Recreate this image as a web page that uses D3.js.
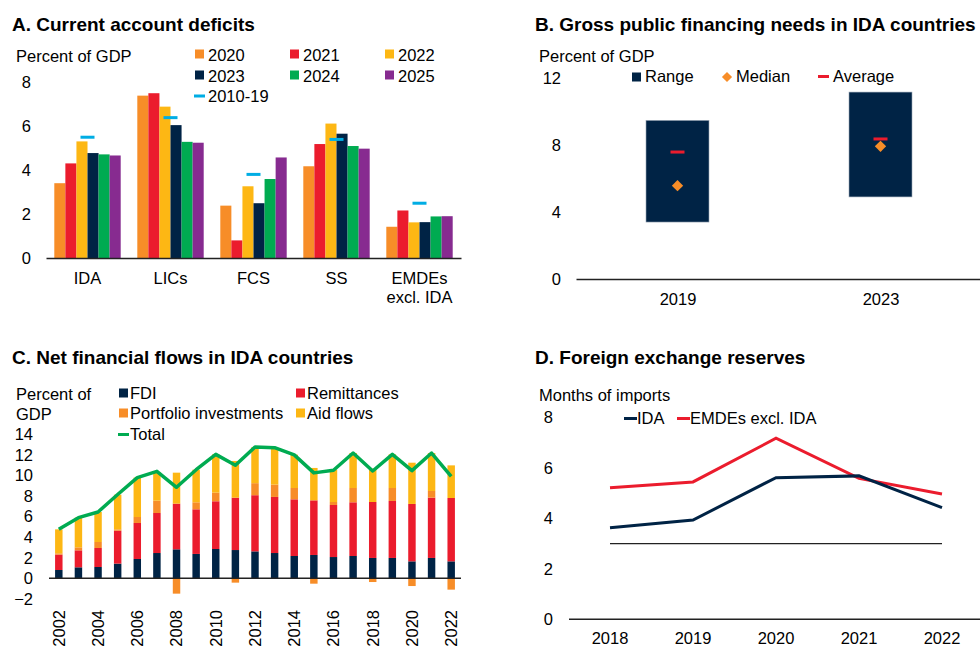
<!DOCTYPE html>
<html>
<head>
<meta charset="utf-8">
<script src="https://cdn.jsdelivr.net/npm/d3@7"></script>
<style>
body { margin: 0; background: #fff; }
text { font-family: 'Liberation Sans', Arial, Helvetica, sans-serif; fill: #000; }
</style>
</head>
<body>
<div id="chart"></div>
<script>
// A. Current account deficits
var groupsA = ["IDA", "LICs", "FCS", "SS", "EMDEs excl. IDA"];
var yearsA = ["2020", "2021", "2022", "2023", "2024", "2025"];
var cad2020 = [3.40, 7.38, 2.38, 4.17, 1.42];
var cad2021 = [4.30, 7.49, 0.80, 5.18, 2.16];
var cad2022 = [5.30, 6.88, 3.26, 6.11, 1.62];
var cad2023 = [4.77, 6.04, 2.49, 5.65, 1.63];
var cad2024 = [4.71, 5.28, 3.59, 5.09, 1.89];
var cad2025 = [4.66, 5.24, 4.57, 4.97, 1.90];
var cadAvg = [5.49, 6.38, 3.80, 5.39, 2.49];
var ticksA = [0, 2, 4, 6, 8];

// B. Gross public financing needs
var yearsB = ["2019", "2023"];
var gfnLow = [3.40, 4.90];
var gfnHigh = [9.47, 11.16];
var gfnMedian = [5.57, 7.92];
var gfnAverage = [7.58, 8.36];
var ticksB = [0, 4, 8, 12];

// C. Net financial flows
var yearsC = d3.range(2002, 2023).map(String);
var fdi = [0.81, 1.07, 1.10, 1.43, 1.88, 2.46, 2.82, 2.37, 2.85, 2.75, 2.62, 2.46, 2.17, 2.27, 2.07, 2.17, 1.98, 1.98, 1.65, 1.98, 1.65];
var remit = [1.49, 1.65, 1.85, 3.20, 3.50, 3.89, 4.44, 4.34, 4.64, 5.09, 5.46, 5.45, 5.51, 5.31, 5.06, 5.22, 5.44, 5.54, 5.58, 5.86, 6.16];
var portfolio = [0.13, 0.29, 0.58, 0.13, 0.58, 1.20, -1.49, 0.68, 0.84, -0.42, 1.17, 1.20, 1.10, -0.52, 0.29, 1.39, -0.36, 1.26, -0.75, 0.65, -1.10];
var aid = [2.33, 2.89, 2.92, 3.37, 3.83, 2.79, 3.01, 3.17, 3.72, 3.57, 3.50, 3.54, 3.24, 3.15, 3.14, 3.40, 3.24, 3.27, 4.01, 3.69, 3.17];
var total = [4.76, 5.90, 6.45, 8.15, 9.79, 10.40, 8.85, 10.56, 12.05, 11.00, 12.77, 12.70, 12.00, 10.25, 10.50, 12.18, 10.43, 12.05, 10.47, 12.18, 9.92];
var ticksC = [-2, 0, 2, 4, 6, 8, 10, 12, 14];

// D. Foreign exchange reserves
var yearsD = ["2018", "2019", "2020", "2021", "2022"];
var resIDA = [3.63, 3.93, 5.61, 5.68, 4.42];
var resEMDE = [5.21, 5.44, 7.17, 5.58, 4.96];
var threshold = 3;
var ticksD = [0, 2, 4, 6, 8];

var navy = "#002345", red = "#EB1C2D", orange = "#F78D28", yellow = "#FDB714",
    green = "#00AB51", purple = "#872B90", cyan = "#00ADE4";
var fs = "16.5px";

var svg = d3.select("#chart").append("svg")
    .attr("width", 980)
    .attr("height", 646);

function title(x, y, s) {
    svg.append("text").attr("x", x).attr("y", y)
        .style("font-size", "19px").style("font-weight", "bold").text(s);
}
function label(x, y, s, anchor) {
    return svg.append("text").attr("x", x).attr("y", y)
        .attr("text-anchor", anchor || "start")
        .style("font-size", fs).text(s);
}
function yAxis(x, scale, ticks) {
    var g = svg.append("g")
        .attr("transform", "translate(" + x + ",0)")
        .call(d3.axisLeft(scale).tickValues(ticks).tickSize(0).tickPadding(0));
    g.select(".domain").remove();
    g.selectAll("text").style("font-size", fs).attr("fill", "#000");
}

// ---------- Panel A ----------
title(12, 31, "A. Current account deficits");
label(16, 62, "Percent of GDP");

var yA = d3.scaleLinear().domain([0, 8]).range([258, 82]);
var xA = d3.scaleBand().domain(groupsA).range([46, 461]).paddingInner(0.2).paddingOuter(0.1);
var xInner = d3.scaleBand().domain(yearsA).range([0, xA.bandwidth()]);
var seriesA = [cad2020, cad2021, cad2022, cad2023, cad2024, cad2025];
var colorsA = [orange, red, yellow, navy, green, purple];

yAxis(31, yA, ticksA);

seriesA.forEach(function (vals, i) {
    svg.append("g").selectAll("rect")
        .data(vals)
        .enter()
        .append("rect")
        .attr("x", function (d, j) { return xA(groupsA[j]) + xInner(yearsA[i]); })
        .attr("y", function (d) { return yA(d); })
        .attr("width", xInner.bandwidth())
        .attr("height", function (d) { return yA(0) - yA(d); })
        .attr("fill", colorsA[i]);
});

svg.append("g").selectAll("rect")
    .data(cadAvg)
    .enter()
    .append("rect")
    .attr("x", function (d, j) { return xA(groupsA[j]) + xA.bandwidth() / 2 - 7; })
    .attr("y", function (d) { return yA(d) - 1.5; })
    .attr("width", 14)
    .attr("height", 3)
    .attr("fill", cyan);

var axA = svg.append("g")
    .attr("transform", "translate(0," + yA(0) + ")")
    .call(d3.axisBottom(xA).tickSize(0).tickPadding(14.5));
axA.select(".domain").attr("stroke", "#222").attr("stroke-width", 1.5);
axA.selectAll("text").style("font-size", fs).attr("fill", "#000")
    .each(function (d) {
        var t = d3.select(this);
        if (d === "EMDEs excl. IDA") {
            t.text(null);
            t.append("tspan").attr("x", 0).text("EMDEs");
            t.append("tspan").attr("x", 0).attr("dy", "1.13em").text("excl. IDA");
        }
    });

// legend A
var legA = [["2020", orange], ["2021", red], ["2022", yellow], ["2023", navy], ["2024", green], ["2025", purple]];
legA.forEach(function (d, i) {
    var lx = 195 + (i % 3) * 95, ly = 54 + Math.floor(i / 3) * 21;
    svg.append("rect").attr("x", lx).attr("y", ly - 4.5).attr("width", 9).attr("height", 9).attr("fill", d[1]);
    label(lx + 13, ly + 6.5, d[0]);
});
svg.append("rect").attr("x", 194).attr("y", 94.5).attr("width", 11).attr("height", 3).attr("fill", cyan);
label(208, 102, "2010-19");

// ---------- Panel B ----------
title(535, 31, "B. Gross public financing needs in IDA countries");
label(539, 62, "Percent of GDP");

var yB = d3.scaleLinear().domain([0, 12]).range([279, 78]);
var xB = d3.scalePoint().domain(yearsB).range([576, 982]).padding(0.5);
yAxis(561, yB, ticksB);

svg.append("g").selectAll("rect")
    .data(yearsB)
    .enter()
    .append("rect")
    .attr("x", function (d) { return xB(d) - 31.5; })
    .attr("y", function (d, i) { return yB(gfnHigh[i]); })
    .attr("width", 63)
    .attr("height", function (d, i) { return yB(gfnLow[i]) - yB(gfnHigh[i]); })
    .attr("fill", navy)
    .attr("stroke", "#9aa7b5")
    .attr("stroke-width", 0.6);

svg.append("g").selectAll("rect")
    .data(yearsB)
    .enter()
    .append("rect")
    .attr("x", function (d) { return xB(d) - 7; })
    .attr("y", function (d, i) { return yB(gfnAverage[i]) - 1.5; })
    .attr("width", 14)
    .attr("height", 3)
    .attr("fill", red);

svg.append("g").selectAll("path")
    .data(yearsB)
    .enter()
    .append("path")
    .attr("transform", function (d, i) { return "translate(" + xB(d) + "," + yB(gfnMedian[i]) + ") rotate(45)"; })
    .attr("d", "M-4,-4H4V4H-4Z")
    .attr("fill", orange);

var axB = svg.append("g")
    .attr("transform", "translate(0," + yB(0) + ")")
    .call(d3.axisBottom(xB).tickSize(0).tickPadding(14));
axB.select(".domain").attr("stroke", "#222").attr("stroke-width", 1.5);
axB.selectAll("text").style("font-size", fs).attr("fill", "#000");

svg.append("rect").attr("x", 632).attr("y", 72.5).attr("width", 9).attr("height", 9).attr("fill", navy);
label(645, 82, "Range");
svg.append("path").attr("transform", "translate(727,77) rotate(45)").attr("d", "M-3.6,-3.6H3.6V3.6H-3.6Z").attr("fill", orange);
label(736, 82, "Median");
svg.append("rect").attr("x", 818).attr("y", 75).attr("width", 11).attr("height", 3).attr("fill", red);
label(833, 82, "Average");

// ---------- Panel C ----------
title(12, 364, "C. Net financial flows in IDA countries");
label(16, 400, "Percent of");
label(16, 420, "GDP");

var yC = d3.scaleLinear().domain([-2, 14]).range([598.9, 434.3]);
var xC = d3.scaleBand().domain(yearsC).range([49, 461]).paddingInner(0.62).paddingOuter(0.31);
yAxis(33, yC, ticksC);

var tableC = yearsC.map(function (y, i) {
    return { year: y, fdi: fdi[i], rem: remit[i], port: portfolio[i], aid: aid[i] };
});
var keysC = ["fdi", "rem", "port", "aid"];
var colorsC = { fdi: navy, rem: red, port: orange, aid: yellow };
var stackC = d3.stack().keys(keysC).offset(d3.stackOffsetDiverging)(tableC);

svg.append("g").selectAll("g")
    .data(stackC)
    .enter()
    .append("g")
    .attr("fill", function (d) { return colorsC[d.key]; })
    .selectAll("rect")
    .data(function (d) { return d; })
    .enter()
    .append("rect")
    .attr("x", function (d) { return xC(d.data.year); })
    .attr("y", function (d) { return yC(Math.max(d[0], d[1])); })
    .attr("width", xC.bandwidth())
    .attr("height", function (d) { return Math.abs(yC(d[0]) - yC(d[1])); });

svg.append("line")
    .attr("x1", 49).attr("x2", 461)
    .attr("y1", yC(0)).attr("y2", yC(0))
    .attr("stroke", "#222").attr("stroke-width", 1.5);

var lineC = d3.line()
    .x(function (d, i) { return xC(yearsC[i]) + xC.bandwidth() / 2; })
    .y(function (d) { return yC(d); });
svg.append("path")
    .datum(total)
    .attr("d", lineC)
    .attr("fill", "none")
    .attr("stroke", green)
    .attr("stroke-width", 3.5)
    .attr("stroke-linejoin", "round");

svg.append("g").selectAll("text")
    .data(yearsC.filter(function (d, i) { return i % 2 === 0; }))
    .enter()
    .append("text")
    .attr("transform", function (d) { return "translate(" + (xC(d) + xC.bandwidth() / 2) + ",610) rotate(-90)"; })
    .attr("dy", "0.36em")
    .attr("text-anchor", "end")
    .style("font-size", fs)
    .text(function (d) { return d; });

var legC = [["FDI", navy, 119, 393], ["Remittances", red, 296, 393], ["Portfolio investments", orange, 119, 413], ["Aid flows", yellow, 296, 413]];
legC.forEach(function (d) {
    svg.append("rect").attr("x", d[2]).attr("y", d[3] - 4.5).attr("width", 9).attr("height", 9).attr("fill", d[1]);
    label(d[2] + 11, d[3] + 6, d[0]);
});
svg.append("line").attr("x1", 118).attr("x2", 129).attr("y1", 434.5).attr("y2", 434.5)
    .attr("stroke", green).attr("stroke-width", 3);
label(130, 440, "Total");

// ---------- Panel D ----------
title(535, 364, "D. Foreign exchange reserves");
label(539, 401, "Months of imports");

var yD = d3.scaleLinear().domain([0, 8]).range([619.3, 417.3]);
var xD = d3.scalePoint().domain(yearsD).range([610, 942]);
yAxis(553, yD, ticksD);

svg.append("line")
    .attr("x1", xD(yearsD[0])).attr("x2", xD(yearsD[yearsD.length - 1]))
    .attr("y1", yD(threshold)).attr("y2", yD(threshold))
    .attr("stroke", "#222").attr("stroke-width", 1.2);

var lineD = d3.line()
    .x(function (d, i) { return xD(yearsD[i]); })
    .y(function (d) { return yD(d); });
svg.append("path").datum(resEMDE).attr("d", lineD)
    .attr("fill", "none").attr("stroke", red).attr("stroke-width", 3);
svg.append("path").datum(resIDA).attr("d", lineD)
    .attr("fill", "none").attr("stroke", navy).attr("stroke-width", 3);

svg.append("line").attr("x1", 569).attr("x2", 980)
    .attr("y1", yD(0)).attr("y2", yD(0))
    .attr("stroke", "#222").attr("stroke-width", 1.5);
svg.append("g").selectAll("text")
    .data(yearsD)
    .enter()
    .append("text")
    .attr("x", function (d) { return xD(d); })
    .attr("y", 643.5)
    .attr("text-anchor", "middle")
    .style("font-size", fs)
    .text(function (d) { return d; });

svg.append("line").attr("x1", 624).attr("x2", 637).attr("y1", 418.5).attr("y2", 418.5)
    .attr("stroke", navy).attr("stroke-width", 3);
label(637, 424, "IDA");
svg.append("line").attr("x1", 677).attr("x2", 690).attr("y1", 418.5).attr("y2", 418.5)
    .attr("stroke", red).attr("stroke-width", 3);
label(690, 424, "EMDEs excl. IDA");
</script>
</body>
</html>
